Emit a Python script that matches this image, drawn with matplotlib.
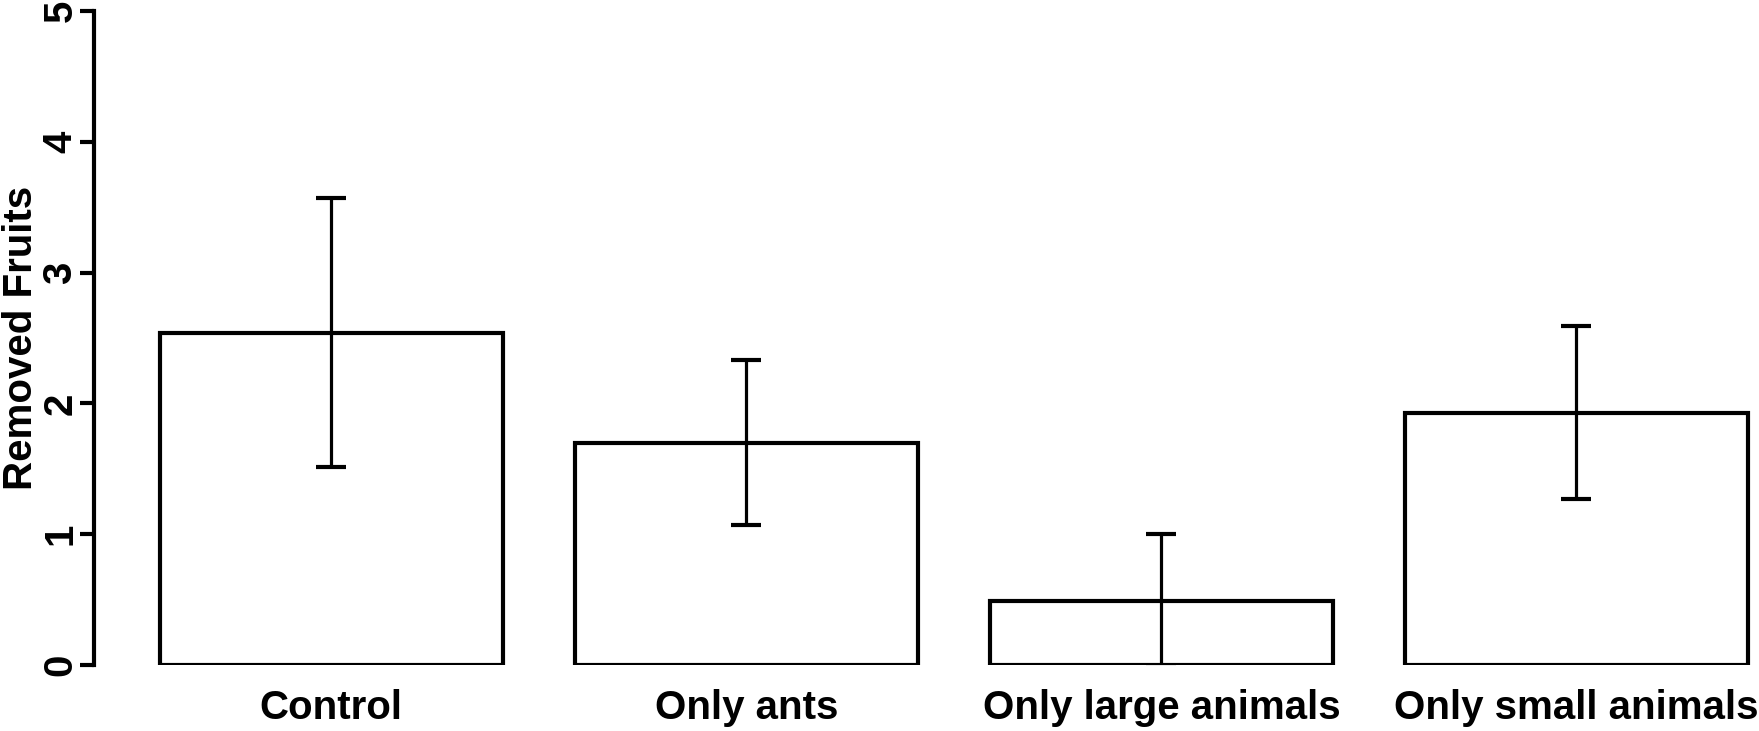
import numpy as np
import matplotlib
matplotlib.use("Agg")
import matplotlib.pyplot as plt

categories = ["Control", "Only ants", "Only large animals", "Only small animals"]
means = [2.54, 1.70, 0.49, 1.93]
errors = [1.03, 0.63, 0.51, 0.66]

plt.rcParams['font.family'] = ['Liberation Sans', 'DejaVu Sans']
plt.rcParams['font.weight'] = 'bold'

fig = plt.figure(figsize=(17.59, 7.31), dpi=100)
ax = fig.add_axes([0.0534, 0.0903, 0.9466, 0.8947])

x = np.arange(len(categories))
ax.bar(x, means, width=0.825, color='white', edgecolor='black', linewidth=3.0, zorder=2)
ax.errorbar(x, means, yerr=errors, fmt='none', ecolor='black', elinewidth=2.3,
            capsize=10.5, capthick=3.0, zorder=3)

ax.set_xlim(-0.572, 3.44)
ax.set_ylim(0, 5)
ax.set_yticks([0, 1, 2, 3, 4, 5])
ax.set_xticks(x)
ax.set_xticklabels(categories, fontsize=29, fontweight='bold')

for s in ['top', 'right', 'bottom']:
    ax.spines[s].set_visible(False)
ax.spines['left'].set_linewidth(3.0)

ax.tick_params(axis='x', length=0, pad=17)
ax.tick_params(axis='y', length=10, width=3.0, pad=0.5, labelsize=29)
for lab in ax.get_yticklabels():
    lab.set_rotation(90)
    lab.set_va('center')
    lab.set_fontweight('bold')

ax.set_ylabel("Removed Fruits", fontsize=29, fontweight='bold')
ax.yaxis.label.set_va('center')
ax.yaxis.set_label_coords(-0.0438, 0.5)

fig.savefig("out.png", dpi=100)
